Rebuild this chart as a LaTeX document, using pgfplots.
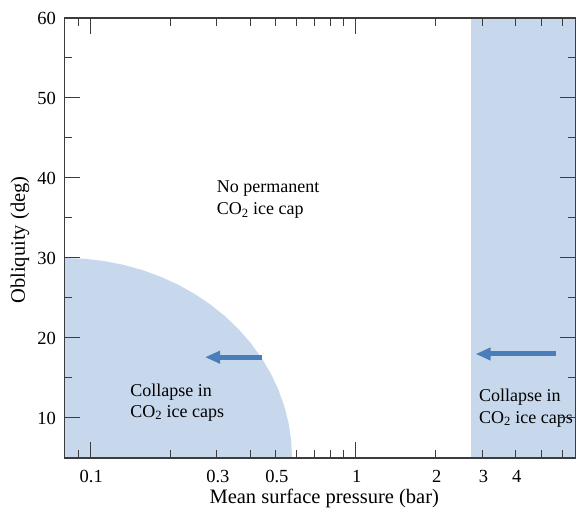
\documentclass[border=0pt]{standalone}
\usepackage{fontspec}
\setmainfont{Liberation Serif}
\usepackage{pgfplots}
\pgfplotsset{compat=1.18}
\usetikzlibrary{arrows.meta}

\definecolor{capfill}{RGB}{199,215,236}
\definecolor{arrowblue}{RGB}{74,126,187}
\definecolor{axisgray}{RGB}{60,60,60}

% quarter ellipse (lower left) in log-x / linear-y data space
\pgfplotstableread{
x y
0.0800 5
0.5756 5
0.5713 7.179
0.5586 9.341
0.5382 11.470
0.5110 13.551
0.4785 15.565
0.4418 17.500
0.4028 19.339
0.3628 21.070
0.3229 22.678
0.2844 24.151
0.2481 25.479
0.2146 26.651
0.1842 27.658
0.1571 28.492
0.1333 29.148
0.1127 29.620
0.0950 29.905
0.0800 30
}\collapselow

\begin{document}
\begin{tikzpicture}
\begin{axis}[
    name=ax,
    scale only axis,
    width=511.5bp, height=440bp,
    xmode=log,
    xmin=0.08, xmax=6.75,
    ymin=5, ymax=60,
    axis on top,
    axis line style={axisgray, line width=1.2bp},
    every tick/.style={axisgray, line width=1bp},
    major tick length=16bp,
    minor tick length=8bp,
    tick align=inside,
    xtick={0.1,1},
    xticklabels={0.1,1},
    minor xtick={0.09,0.2,0.3,0.4,0.5,0.6,0.7,0.8,0.9,2,3,4,5,6},
    extra x ticks={0.3,0.5,2,3,4},
    extra x tick labels={0.3,0.5,2,3,4},
    extra x tick style={major tick length=0pt},
    ytick={10,20,30,40,50,60},
    minor y tick num=1,
    /pgf/number format/assume math mode=true,
    tick label style={font=\fontsize{18.5bp}{22bp}\selectfont},
    xticklabel style={yshift=-9bp, xshift=1bp},
    yticklabel style={xshift=-5bp},
    xlabel={Mean surface pressure (bar)},
    ylabel={Obliquity (deg)},
    label style={font=\fontsize{20.5bp}{24bp}\selectfont},
    xlabel style={at={(axis description cs:0.5,0)}, anchor=base, yshift=-45bp, xshift=4bp},
    ylabel style={at={(axis description cs:-0.087,0.4955)}, anchor=center},
]
\addplot[fill=capfill, draw=none] table {\collapselow};
\addplot[fill=capfill, draw=none] coordinates {(2.705,5) (6.75,5) (6.75,60) (2.705,60)};

\addplot[arrowblue, line width=5bp, -{Triangle[length=15bp, width=12bp]}]
    coordinates {(0.4431,17.6) (0.2706,17.6)};
\addplot[arrowblue, line width=5bp, -{Triangle[length=15bp, width=12bp]}]
    coordinates {(5.695,18.0) (2.826,18.0)};

\begin{scope}[every node/.style={anchor=base west, inner sep=0pt, font=\fontsize{18bp}{22bp}\selectfont}]
\node at (axis cs:0.2995,38.16) {No permanent};
\node at (axis cs:0.2995,35.38) {CO\textsubscript{2} ice cap};
\node at (axis cs:0.1414,12.75) {Collapse in};
\node at (axis cs:0.1414,10.10) {CO\textsubscript{2} ice caps};
\node at (axis cs:2.908,12.04) {Collapse in};
\node at (axis cs:2.908,9.34) {CO\textsubscript{2} ice caps};
\end{scope}
\end{axis}
\pgfresetboundingbox
\path[use as bounding box] ([xshift=-64.5bp,yshift=-54bp]ax.south west) rectangle ([yshift=18bp]ax.north east);
\end{tikzpicture}
\end{document}
